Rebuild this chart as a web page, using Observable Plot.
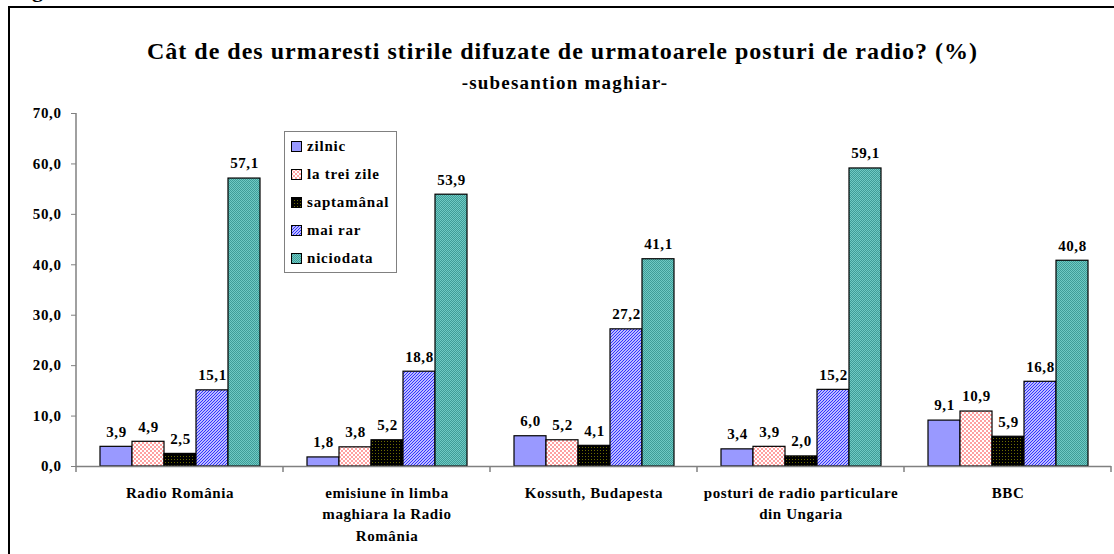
<!DOCTYPE html>
<html>
<head>
<meta charset="utf-8">
<script src="https://cdn.jsdelivr.net/npm/d3@7"></script>
<script src="https://cdn.jsdelivr.net/npm/@observablehq/plot@0.6"></script>
<style>
  html, body { margin: 0; padding: 0; background: #fff; }
  body { width: 1114px; height: 554px; overflow: hidden; position: relative;
         font-family: "Liberation Serif", "Times New Roman", serif; font-weight: bold; color: #000; }
  #frame { position: absolute; left: 8px; top: 6px; width: 1200px; height: 700px;
           border-left: 2px solid #000; border-top: 2px solid #000; }
  #topg { position: absolute; left: 32px; top: -21px; font-size: 22px; line-height: 22px; }
  #title { position: absolute; left: 0; width: 1125px; top: 37px; text-align: center; font-size: 24px; line-height: 28px; letter-spacing: 1px; white-space: nowrap; }
  #subtitle { position: absolute; left: 0; width: 1130px; top: 72px; text-align: center; font-size: 19px; line-height: 22px; letter-spacing: 1.2px; white-space: nowrap; }
  #chart { position: absolute; left: 0; top: 0; }
  #legend { position: absolute; left: 284px; top: 131px; width: 111px; height: 140px;
            border: 1px solid #808080; background: #fff; }
  .item { height: 28px; display: flex; align-items: center; padding-left: 6px; font-size: 15px; letter-spacing: 0.8px; white-space: nowrap; }
  .item svg { margin-right: 5px; flex: none; }
</style>
</head>
<body>
<svg width="0" height="0" style="position:absolute">
  <defs>
    <pattern id="pat1" patternUnits="userSpaceOnUse" width="4" height="4">
      <rect width="4" height="4" fill="#ffffff"/>
      <rect x="0" y="0" width="2" height="2" fill="#ffa0a0"/>
      <rect x="2" y="2" width="2" height="2" fill="#ffa0a0"/>
    </pattern>
    <pattern id="pat2" patternUnits="userSpaceOnUse" width="3" height="3">
      <rect width="3" height="3" fill="#000000"/>
      <rect x="0" y="0" width="1" height="1" fill="#6b6b00"/>
    </pattern>
    <pattern id="pat3" patternUnits="userSpaceOnUse" width="3" height="3">
      <rect width="3" height="3" fill="#ffffff"/>
      <path d="M-1,1 l2,-2 M0,3 l3,-3 M2,4 l2,-2" stroke="#2a2aff" stroke-width="1.2"/>
    </pattern>
    <pattern id="pat4" patternUnits="userSpaceOnUse" width="2" height="2">
      <rect width="2" height="2" fill="#6fcac4"/>
      <rect x="0" y="0" width="1" height="1" fill="#3f9c97"/>
      <rect x="1" y="1" width="1" height="1" fill="#3f9c97"/>
    </pattern>
  </defs>
</svg>
<div id="frame"></div>
<div id="topg">g</div>
<div id="chart"></div>
<div id="title">Cât de des urmaresti stirile difuzate de urmatoarele posturi de radio? (%)</div>
<div id="subtitle">-subesantion maghiar-</div>
<div id="legend"></div>
<script>
const categories = [
  "Radio România",
  "emisiune în limba maghiara la Radio România",
  "Kossuth, Budapesta",
  "posturi de radio particulare din Ungaria",
  "BBC"
];
const categoryLabels = [
  "Radio România",
  "emisiune în limba\nmaghiara la Radio\nRomânia",
  "Kossuth, Budapesta",
  "posturi de radio particulare\ndin Ungaria",
  "BBC"
];
const series = ["zilnic", "la trei zile", "saptamânal", "mai rar", "niciodata"];
const zilnic     = [3.9, 1.8, 6.0, 3.4, 9.1];
const laTreiZile = [4.9, 3.8, 5.2, 3.9, 10.9];
const saptamanal = [2.5, 5.2, 4.1, 2.0, 5.9];
const maiRar     = [15.1, 18.8, 27.2, 15.2, 16.8];
const niciodata  = [57.1, 53.9, 41.1, 59.1, 40.8];
const yTicks = [0, 10, 20, 30, 40, 50, 60, 70];

const seriesValues = [zilnic, laTreiZile, saptamanal, maiRar, niciodata];
const fills = ["#9999ff", "url(#pat1)", "url(#pat2)", "url(#pat3)", "url(#pat4)"];

const rows = [];
categories.forEach((c, i) => {
  series.forEach((s, j) => rows.push({category: c, series: s, value: seriesValues[j][i]}));
});
const fmt = v => v.toFixed(1).replace(".", ",");
const labelOf = new Map(categories.map((c, i) => [c, categoryLabels[i]]));

const plot = Plot.plot({
  width: 1114,
  height: 554,
  marginLeft: 76,
  marginRight: 3,
  marginTop: 113,
  marginBottom: 88,
  style: {fontFamily: '"Liberation Serif", "Times New Roman", serif', fontSize: "15px", fontWeight: "bold", letterSpacing: "0.6px", color: "#000", background: "transparent"},
  fx: {domain: categories, padding: 0, label: null},
  x: {domain: series, paddingInner: 0, paddingOuter: 0.72, axis: null},
  y: {domain: [0, 70], label: null},
  color: {domain: series, range: fills},
  marks: [
    Plot.axisY({ticks: yTicks, tickSize: 5, tickPadding: 10, tickFormat: fmt, stroke: "#808080", fill: "#000"}),
    Plot.axisFx({anchor: "bottom", tickSize: 0, tickPadding: 16, tickFormat: d => labelOf.get(d), lineHeight: 1.43, label: null, fill: "#000"}),
    Plot.barY(rows, {fx: "category", x: "series", y: "value", fill: "series", stroke: "#000", strokeWidth: 1.2}),
    Plot.ruleY([0], {stroke: "#808080", strokeWidth: 1.5}),
    Plot.text(rows, {fx: "category", x: "series", y: "value", text: d => fmt(d.value), dy: -15, fill: "#000"})
  ]
});
document.getElementById("chart").appendChild(plot);

// axis line and boundary ticks, placed from the plot's own scales
const fxS = plot.scale("fx"), yS = plot.scale("y");
const svg = d3.select(plot);
const bounds = categories.map(c => fxS.apply(c)).concat([fxS.apply(categories[categories.length - 1]) + fxS.bandwidth]);
const y0 = yS.apply(0), yTop = yS.apply(70);
const g = svg.append("g").attr("stroke", "#808080").attr("stroke-width", 1.5);
g.append("line").attr("x1", bounds[0]).attr("x2", bounds[0]).attr("y1", yTop).attr("y2", y0);
bounds.forEach(b => g.append("line").attr("x1", b).attr("x2", b).attr("y1", y0).attr("y2", y0 + 6));

// legend
const legend = d3.select("#legend");
series.forEach((s, j) => {
  const item = legend.append("div").attr("class", "item");
  const sw = item.append("svg").attr("width", 11).attr("height", 11);
  sw.append("rect").attr("x", 0.5).attr("y", 0.5).attr("width", 10).attr("height", 10)
    .attr("fill", fills[j]).attr("stroke", "#000");
  item.append("span").text(s);
});
</script>
</body>
</html>
